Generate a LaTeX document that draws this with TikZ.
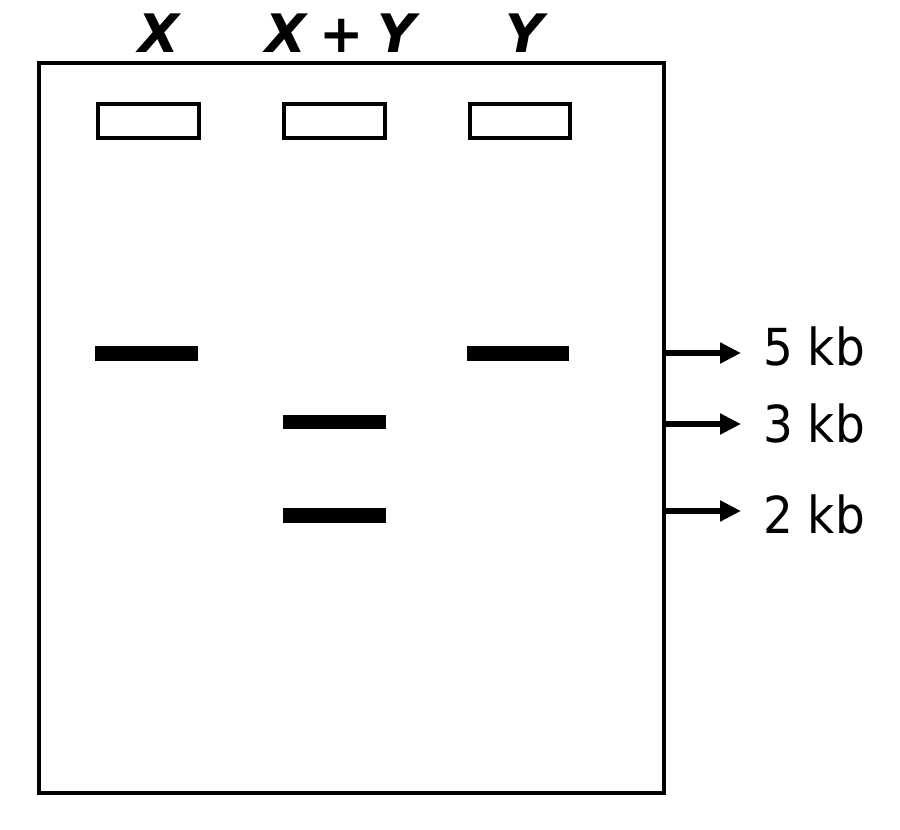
\documentclass[tikz,border=0pt]{standalone}
\usepackage{fontspec}
\setmainfont{DejaVu Sans}
\usetikzlibrary{arrows.meta}
\begin{document}
\begin{tikzpicture}[x=1pt,y=-1pt,
  gelbox/.style={draw=black,line width=3.8pt},
  well/.style={draw=black,line width=3.5pt,fill=white},
  band/.style={fill=black,draw=none},
  lane/.style={font=\fontsize{53}{53}\selectfont\bfseries\itshape,inner sep=0pt,anchor=base},
  sizelbl/.style={font=\fontsize{51}{51}\selectfont,inner sep=0pt,anchor=base west},
  arr/.style={line width=6pt,-{Triangle[length=21pt,width=20pt]}}]
\useasboundingbox (0,0) rectangle (900,830);
% gel
\draw[gelbox] (39,63) rectangle (664,793);
% wells
\draw[well] (98,104) rectangle (199,138);
\draw[well] (284,104) rectangle (385,138);
\draw[well] (470,104) rectangle (570,138);
% bands
\fill[band] (95,346) rectangle (198,361);
\fill[band] (467,346) rectangle (569,361);
\fill[band] (283,415) rectangle (386,429);
\fill[band] (283,508) rectangle (386,523);
% lane labels
\node[lane] (lx) at (159,52) {X};
\node[lane] (lxy) at (341,52) {X\hspace{-5pt} + \hspace{-5pt}Y};
\node[lane] (ly) at (525,52) {Y};
% size labels
\node[sizelbl] (l5) at (763,365) {\scalebox{0.92}[1]{5 kb}};
\node[sizelbl] (l3) at (763,442) {\scalebox{0.92}[1]{3 kb}};
\node[sizelbl] (l2) at (763,533) {\scalebox{0.92}[1]{2 kb}};
% arrows
\coordinate (a5s) at (665,353);
\coordinate (a5e) at (741,353);
\coordinate (a3s) at (665,424);
\coordinate (a3e) at (741,424);
\coordinate (a2s) at (665,511);
\coordinate (a2e) at (741,511);
\draw[arr] (a5s) -- (a5e);
\draw[arr] (a3s) -- (a3e);
\draw[arr] (a2s) -- (a2e);
\end{tikzpicture}
\end{document}
